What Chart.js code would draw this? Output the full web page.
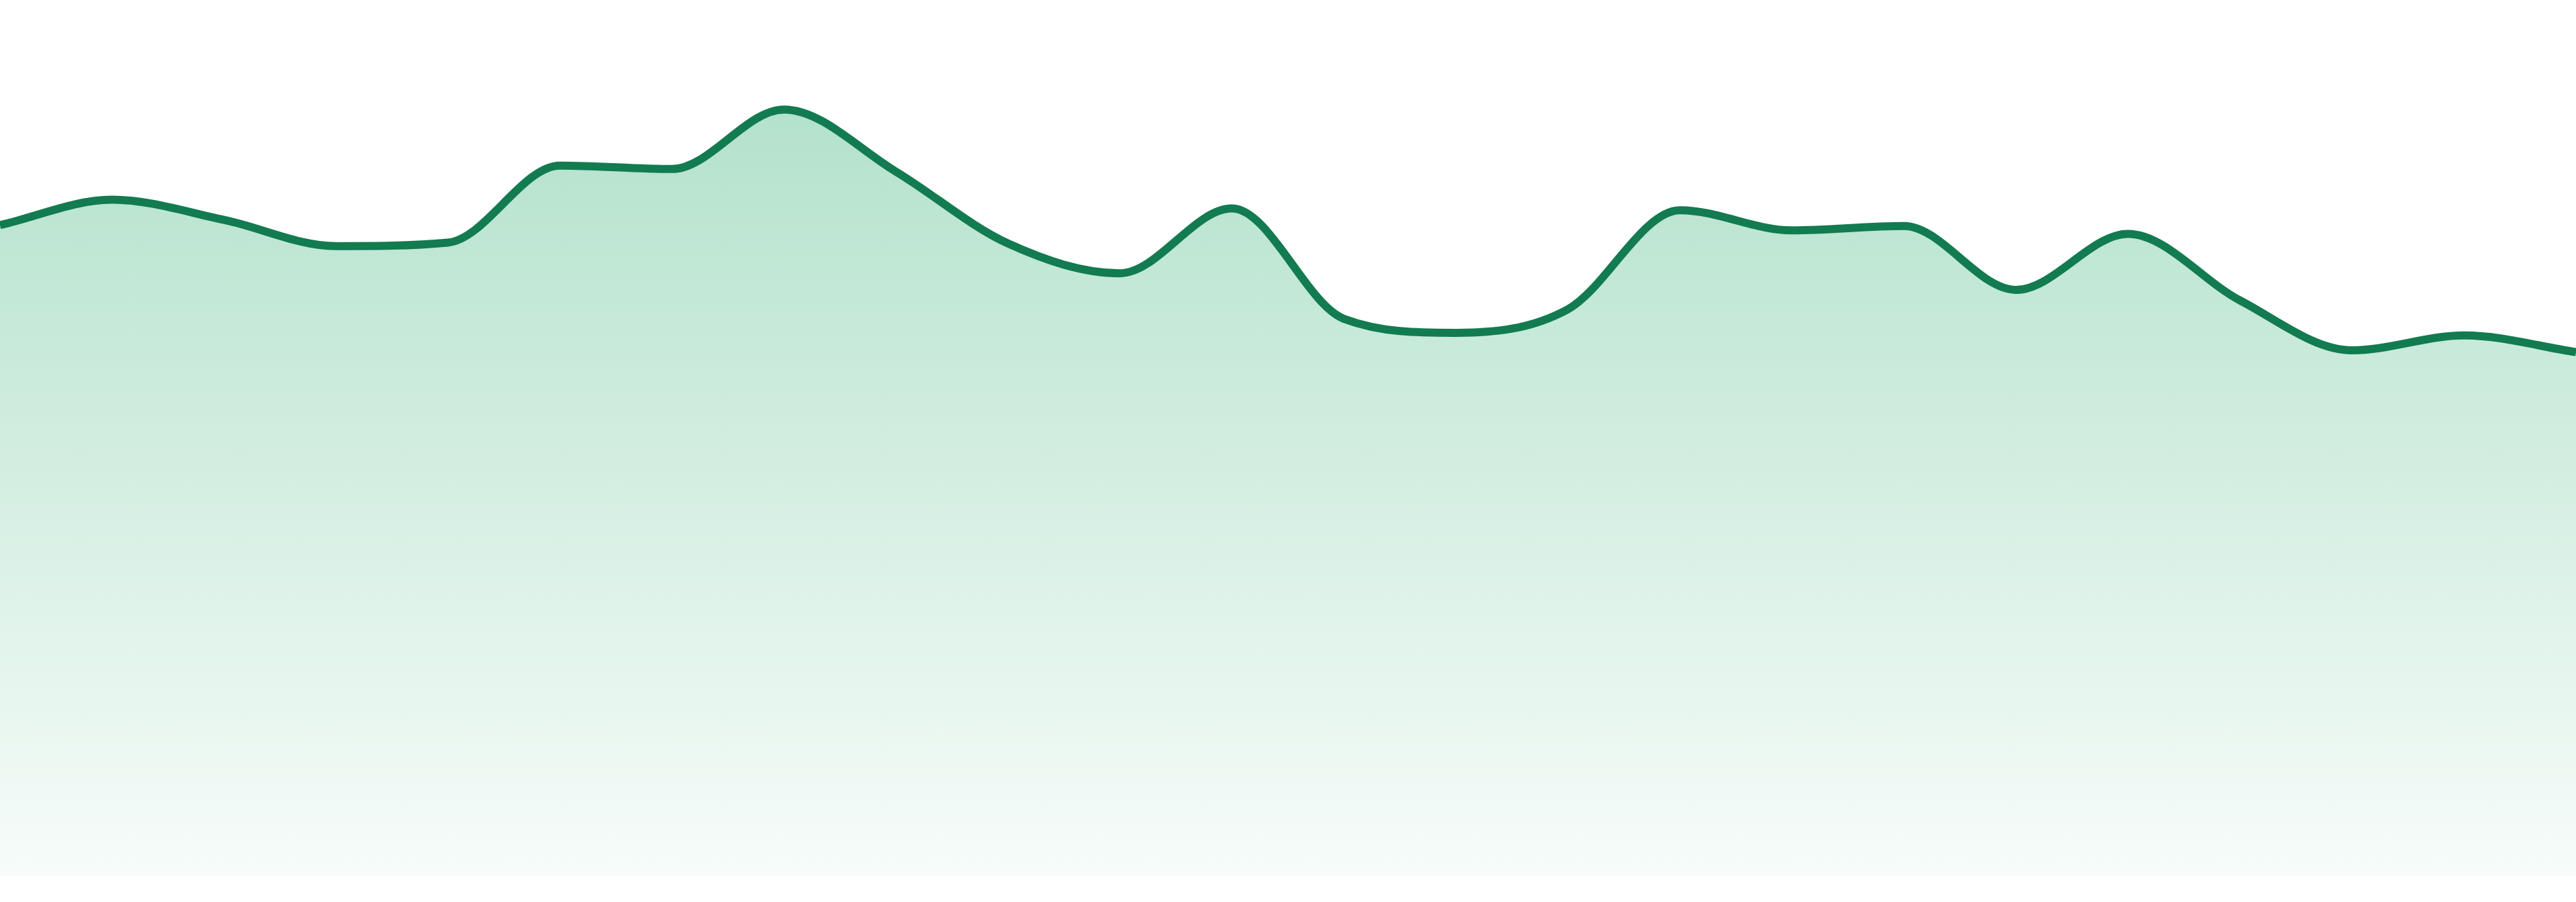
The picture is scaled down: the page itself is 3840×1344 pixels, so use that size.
<!DOCTYPE html>
<html>
<head>
<meta charset="utf-8">
<script src="https://cdn.jsdelivr.net/npm/chart.js@4.4.1/dist/chart.umd.min.js"></script>
<style>
  html, body { margin: 0; padding: 0; background: #ffffff; }
  #wrap { width: 3840px; height: 1344px; position: relative; }
</style>
</head>
<body>
<div id="wrap"><canvas id="trendChart"></canvas></div>
<script>
// 24 evenly spaced samples, left to right
const labels = ['1', '2', '3', '4', '5', '6', '7', '8', '9', '10', '11', '12',
  '13', '14', '15', '16', '17', '18', '19', '20', '21', '22', '23', '24'];

const values = [74.3, 77.2, 74.9, 71.9, 72.3, 81.1, 80.7, 87.5, 80.4, 72.2, 68.8, 76.2,
  63.6, 62.0, 64.7, 76.0, 73.7, 74.2, 66.9, 73.3, 65.7, 60.0, 61.7, 59.8];

const yMin = 0;
const yMax = 100;

const lineColor = '#127b50';

function fillGradient(context) {
  const chart = context.chart;
  const area = chart.chartArea;
  if (!area) return 'rgba(170,222,197,0.6)';
  const g = chart.ctx.createLinearGradient(0, area.top, 0, area.bottom);
  g.addColorStop(0, 'rgb(170,222,197)');
  g.addColorStop(1, 'rgb(247,252,250)');
  return g;
}

document.addEventListener('DOMContentLoaded', () => {
  const canvas = document.getElementById('trendChart');

  new Chart(canvas, {
    type: 'line',
    data: {
      labels: labels,
      datasets: [{
        data: values,
        borderColor: lineColor,
        borderWidth: 12,
        backgroundColor: fillGradient,
        fill: 'start',
        cubicInterpolationMode: 'monotone',
        pointRadius: 0,
        pointHoverRadius: 0
      }]
    },
    options: {
      responsive: true,
      maintainAspectRatio: false,
      animation: false,
      layout: { padding: { top: 0, bottom: 39, left: 0, right: 0 } },
      plugins: {
        legend: { display: false },
        tooltip: { enabled: false }
      },
      scales: {
        x: { display: false, offset: false },
        y: { display: false, min: yMin, max: yMax }
      }
    }
  });
});
</script>
</body>
</html>
